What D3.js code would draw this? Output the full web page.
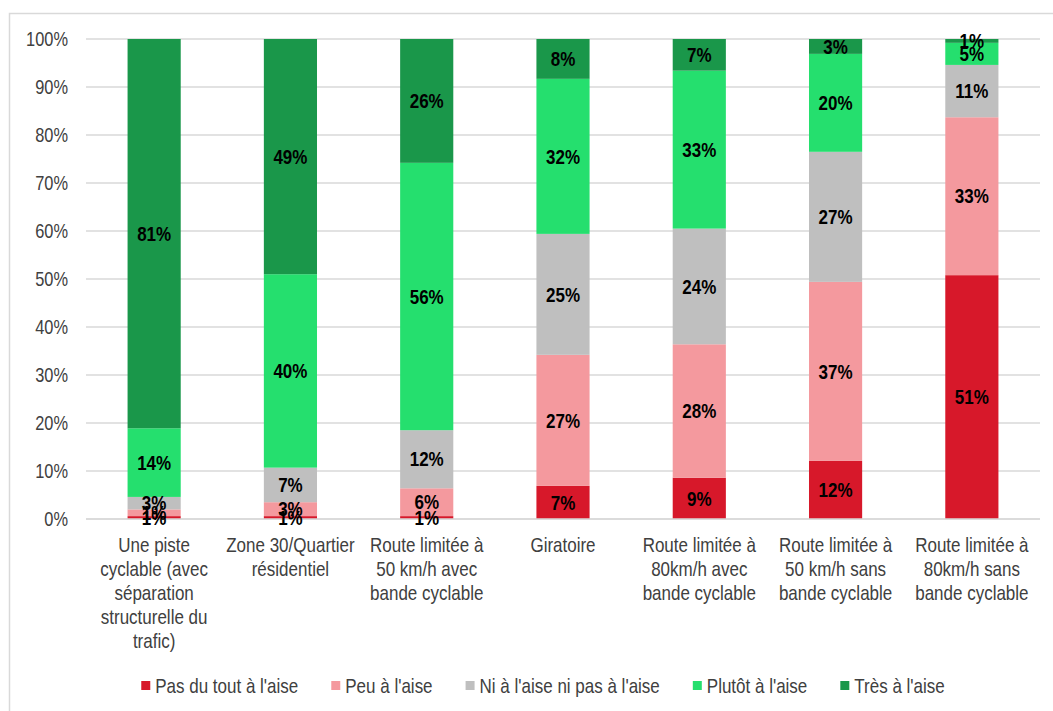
<!DOCTYPE html>
<html>
<head>
<meta charset="utf-8">
<script src="https://cdn.jsdelivr.net/npm/d3@7"></script>
<style>
  html, body { margin: 0; padding: 0; background: #fff; }
  svg { display: block; }
  text { font-family: "Liberation Sans", Arial, sans-serif; }
</style>
</head>
<body>
<svg id="chart" width="1053" height="711"></svg>
<script>
// Categories (line breaks as in the axis labels)
const categories = [
  "Une piste\ncyclable (avec\nséparation\nstructurelle du\ntrafic)",
  "Zone 30/Quartier\nrésidentiel",
  "Route limitée à\n50 km/h avec\nbande cyclable",
  "Giratoire",
  "Route limitée à\n80km/h avec\nbande cyclable",
  "Route limitée à\n50 km/h sans\nbande cyclable",
  "Route limitée à\n80km/h sans\nbande cyclable"
];

const seriesNames = [
  "Pas du tout à l'aise",
  "Peu à l'aise",
  "Ni à l'aise ni pas à l'aise",
  "Plutôt à l'aise",
  "Très à l'aise"
];

// Shares (%) per category, one array per series
const pasDuTout = [0.6, 0.6, 0.6, 6.9, 8.6, 12.1, 50.8];
const peu       = [1.4, 2.9, 5.8, 27.3, 27.8, 37.3, 32.9];
const ni        = [2.6, 7.2, 12.1, 25.2, 24.1, 27.1, 10.9];
const plutot    = [14.3, 40.3, 55.7, 32.3, 32.9, 20.4, 4.6];
const tres      = [81.1, 49.0, 25.8, 8.3, 6.6, 3.1, 0.8];

const yTicks = [0, 10, 20, 30, 40, 50, 60, 70, 80, 90, 100];

const colors = ["#d7182a", "#f4999e", "#bfbfbf", "#25df6e", "#1a974a"];

// Condensed look: horizontally squeezed sans-serif
const SQUEEZE = 0.85;

const series = [pasDuTout, peu, ni, plutot, tres];
const rows = categories.map((c, i) => {
  const r = { category: c };
  seriesNames.forEach((s, k) => { r[s] = series[k][i]; });
  return r;
});

const svg = d3.select("#chart");
const margin = { left: 86, right: 13, top: 39, bottom: 192 };
const W = 1053, H = 711;

function narrow(sel, px, py, k = SQUEEZE) {
  return sel.attr("transform", `translate(${px},${py}) scale(${k},1)`);
}

// Outer chart frame
svg.append("rect")
  .attr("x", 9.5).attr("y", 13.5)
  .attr("width", 1100).attr("height", 800)
  .attr("fill", "none").attr("stroke", "#d9d9d9").attr("stroke-width", 1.5);

const x = d3.scaleBand()
  .domain(categories)
  .range([margin.left, W - margin.right])
  .paddingInner(0.61)
  .paddingOuter(0.305);

const y = d3.scaleLinear()
  .domain([0, 100])
  .range([H - margin.bottom, margin.top]);

// Horizontal gridlines
svg.append("g")
  .selectAll("line")
  .data(yTicks)
  .join("line")
  .attr("x1", margin.left).attr("x2", W - margin.right)
  .attr("y1", d => y(d)).attr("y2", d => y(d))
  .attr("stroke", "#d9d9d9").attr("stroke-width", 1.5);

// Y axis labels
svg.append("g")
  .selectAll("text")
  .data(yTicks)
  .join("text")
  .each(function (d) { narrow(d3.select(this), margin.left - 18, y(d), 0.82); })
  .attr("dy", "0.36em")
  .attr("text-anchor", "end")
  .attr("font-size", 20)
  .attr("fill", "#404040")
  .text(d => d + "%");

// Stacked bars
const stack = d3.stack().keys(seriesNames);
const stacked = stack(rows);

const layers = svg.append("g")
  .selectAll("g")
  .data(stacked)
  .join("g")
  .attr("fill", (d, i) => colors[i]);

layers.selectAll("rect")
  .data(d => d)
  .join("rect")
  .attr("x", d => x(d.data.category))
  .attr("width", x.bandwidth())
  .attr("y", d => y(d[1]))
  .attr("height", d => y(d[0]) - y(d[1]));

// Baseline
svg.append("line")
  .attr("x1", margin.left).attr("x2", W - margin.right)
  .attr("y1", y(0)).attr("y2", y(0))
  .attr("stroke", "#d9d9d9").attr("stroke-width", 1.5);

// Value labels
const labels = svg.append("g");
stacked.forEach(layer => {
  layer.forEach(d => {
    const t = labels.append("text")
      .attr("dy", "0.36em")
      .attr("text-anchor", "middle")
      .attr("font-size", 20)
      .attr("font-weight", "bold")
      .attr("fill", "#000")
      .text(Math.round(d[1] - d[0]) + "%");
    narrow(t, x(d.data.category) + x.bandwidth() / 2, (y(d[0]) + y(d[1])) / 2);
  });
});

// Category labels
const xAxis = svg.append("g");
categories.forEach(c => {
  const t = xAxis.append("text")
    .attr("text-anchor", "middle")
    .attr("font-size", 20)
    .attr("fill", "#404040");
  narrow(t, x(c) + x.bandwidth() / 2, y(0) + 33);
  c.split("\n").forEach((line, i) => {
    t.append("tspan")
      .attr("x", 0)
      .attr("dy", i === 0 ? 0 : 24)
      .text(line);
  });
});

// Legend
const legend = svg.append("g");
const items = [];
let cursor = 0;
const gap = 33;
seriesNames.forEach((name, i) => {
  const g = legend.append("g");
  g.append("rect").attr("x", 0).attr("y", -5).attr("width", 9).attr("height", 9).attr("fill", colors[i]);
  const t = g.append("text")
    .attr("dy", "0.36em")
    .attr("font-size", 20).attr("fill", "#404040").text(name);
  narrow(t, 14, 0);
  const w = 14 + t.node().getComputedTextLength() * SQUEEZE;
  items.push({ g, x: cursor });
  cursor += w + gap;
});
const total = cursor - gap;
const startX = 543 - total / 2;
items.forEach(it => it.g.attr("transform", `translate(${startX + it.x},686)`));
</script>
</body>
</html>
